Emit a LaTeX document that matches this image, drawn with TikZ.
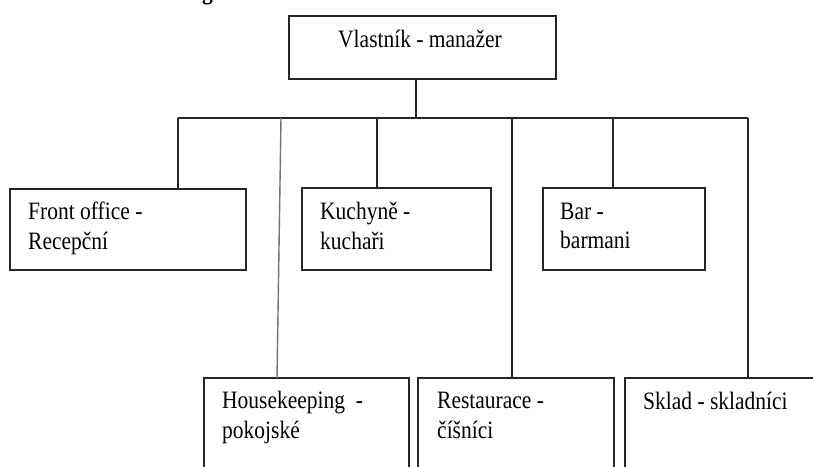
\documentclass[tikz,border=0pt]{standalone}
\usepackage{fontspec}
\setmainfont{Liberation Serif}[FakeStretch=0.86]
\begin{document}
\begin{tikzpicture}[x=1pt,y=-1pt,
  orgbox/.style={draw=black!85,line width=1.1pt,inner sep=0pt,outer sep=0pt,anchor=north west},
  lbl/.style={anchor=base west,inner sep=0pt,font=\fontsize{25}{30}\selectfont},
  conn/.style={draw=black!85,line width=1.1pt},
  greyconn/.style={draw=black!55,line width=1.4pt}]
\useasboundingbox (0,0) rectangle (813,466);
\clip (0,0) rectangle (813,466);
% clipped heading fragment
\node[anchor=base west,inner sep=0pt,font=\bfseries\fontsize{25}{30}\selectfont] (head) at (202,-1) {g};
% boxes
\node[orgbox,minimum width=267pt,minimum height=63pt] (top) at (289,16) {};
\node[orgbox,minimum width=236pt,minimum height=81pt] (fo) at (10,189) {};
\node[orgbox,minimum width=189pt,minimum height=82pt] (ku) at (302,188) {};
\node[orgbox,minimum width=162pt,minimum height=82pt] (bar) at (543,188) {};
\node[orgbox,minimum width=205pt,minimum height=110pt] (hk) at (204,378) {};
\node[orgbox,minimum width=196pt,minimum height=110pt] (re) at (418,378) {};
\node[orgbox,minimum width=205pt,minimum height=110pt] (sk) at (625,378) {};
% texts
\node[anchor=base,inner sep=0pt,font=\fontsize{25}{30}\selectfont] (ttop) at (420,47) {Vlastník - manažer};
\node[lbl] (tfo1) at (28,219) {Front office -};
\node[lbl] (tfo2) at (28,249) {Recepční};
\node[lbl] (tku1) at (320,219) {Kuchyně -};
\node[lbl] (tku2) at (320,249) {kuchaři};
\node[lbl] (tbar1) at (560,219) {Bar -};
\node[lbl] (tbar2) at (560,248) {barmani};
\node[lbl] (thk1) at (222,408) {Housekeeping\ \ -};
\node[lbl] (thk2) at (222,438) {pokojské};
\node[lbl] (tre1) at (437,408) {Restaurace -};
\node[lbl] (tre2) at (437,438) {číšníci};
\node[lbl] (tsk) at (643,409) {Sklad - skladníci};
% bus coordinates
\coordinate (j0) at (416,118);
\coordinate (j1) at (178,118);
\coordinate (j2) at (281,118);
\coordinate (j3) at (377,118);
\coordinate (j4) at (512,118);
\coordinate (j5) at (613,118);
\coordinate (j6) at (748,118);
\coordinate (hkin) at (277,378);
% connectors
\draw[conn] (j0 |- top.south) -- (j0);
\draw[conn] (j1) -- (j6);
\draw[conn] (j1) -- (j1 |- fo.north);
\draw[conn] (j3) -- (j3 |- ku.north);
\draw[conn] (j4) -- (j4 |- re.north);
\draw[conn] (j5) -- (j5 |- bar.north);
\draw[conn] (j6) -- (j6 |- sk.north);
\draw[greyconn] (j2) -- (hkin);
\end{tikzpicture}
\end{document}
